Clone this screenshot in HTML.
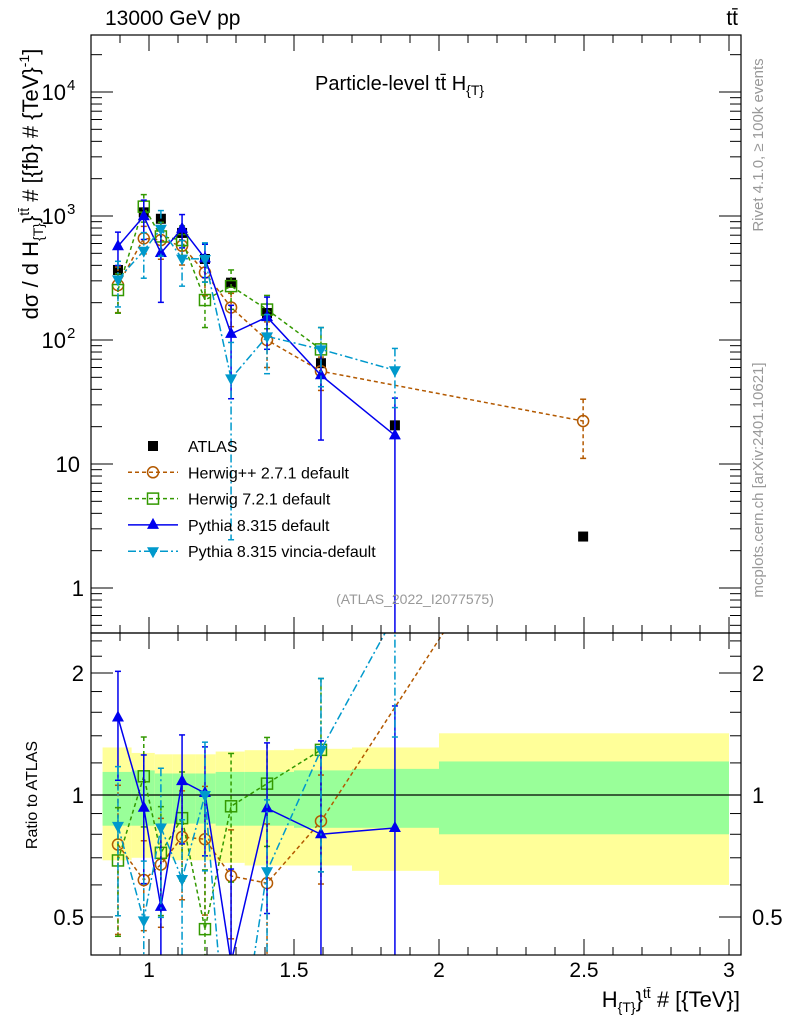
<!DOCTYPE html>
<html><head><meta charset="utf-8"><style>
body{margin:0;background:#fff;overflow:hidden;}
svg{display:block;font-family:"Liberation Sans",sans-serif;}
</style></head><body>
<svg id="c" width="786" height="1024" xmlns="http://www.w3.org/2000/svg"></svg>
<script>
const xVals=[0.893,0.982,1.041,1.114,1.193,1.283,1.407,1.593,1.848,2.497];
const hppX=[0.893,0.982,1.041,1.114,1.193,1.283,1.407,1.593,2.497];
const binEdges=[0.84,0.94,1.02,1.08,1.16,1.23,1.33,1.5,1.7,2.0,3.0];
const atlas=[367,1070,950,730,450,290,165,65,20.5,2.6];
const statUp=[0.14,0.15,0.13,0.13,0.13,0.14,0.14,0.15,0.16,0.21];
const statDn=[0.16,0.16,0.15,0.15,0.15,0.16,0.16,0.17,0.17,0.20];
const totUp=[0.31,0.27,0.26,0.26,0.26,0.28,0.29,0.30,0.31,0.42];
const totDn=[0.31,0.30,0.30,0.31,0.31,0.32,0.33,0.33,0.35,0.40];
const hppVals=[277,660,640,575,350,183,100,56,22.2];
const hppAtlas=[367,1070,950,730,450,290,165,65,2.6];
const hppErr=[0.4,0.25,0.3,0.3,0.35,0.3,0.4,0.3,0.5];
const h7Vals=[253,1190,684,640,210,272,176,84];
const h7Err=[0.35,0.25,0.3,0.3,0.4,0.35,0.3,0.5];
const py8Vals=[570,995,503,790,455,112,153,52,17];
const py8Err=[0.3,0.35,0.6,0.3,0.3,0.7,0.45,0.7,1.0];
const vinVals=[308,525,790,453,450,49,107,84,57];
const vinErr=[0.4,0.4,0.4,0.4,0.35,0.95,0.5,0.5,0.5];

const NS="http://www.w3.org/2000/svg";
const svg=document.getElementById('c');
const L=91,R=741,T=35,M=633,B=955;
const X=v=>L+(v-0.8)*290;
const YM=v=>588-Math.log10(v)*124;
const YR=r=>795-Math.log2(r)*122;
function el(tag,attrs,parent){const e=document.createElementNS(NS,tag);for(const k in attrs)e.setAttribute(k,attrs[k]);(parent||svg).appendChild(e);return e;}
const defs=el('defs',{});
const c1=el('clipPath',{id:'cm'},defs);el('rect',{x:L,y:T,width:R-L,height:M-T},c1);
const c2=el('clipPath',{id:'cr'},defs);el('rect',{x:L,y:M,width:R-L,height:B-M},c2);

const gR=el('g',{'clip-path':'url(#cr)'});

for(let i=0;i<atlas.length;i++){
 const x0=X(binEdges[i]),x1=X(binEdges[i+1]);
 const y=el('rect',{x:x0,y:YR(1+totUp[i]),width:x1-x0,height:YR(1-totDn[i])-YR(1+totUp[i]),fill:'#ffff99'},gR);
 
 const g=el('rect',{x:x0,y:YR(1+statUp[i]),width:x1-x0,height:YR(1-statDn[i])-YR(1+statUp[i]),fill:'#99ff99'},gR);
 
}
el('line',{x1:L,x2:R,y1:YR(1),y2:YR(1),stroke:'#000','stroke-width':1.2},gR);

const gM=el('g',{'clip-path':'url(#cm)'});
for(let i=0;i<atlas.length;i++){
 const r=el('rect',{x:X(xVals[i])-5,y:YM(atlas[i])-5,width:10,height:10,fill:'#000'},gM);
 
}
function series(xs,ref,vals,err,color,dash,marker,name){
 const pts=vals.map((v,i)=>[X(xs[i]),YM(v)]);
 const rpts=vals.map((v,i)=>[X(xs[i]),YR(v/ref[i])]);
 [[gM,pts,1],[gR,rpts,0]].forEach(([g,p,main])=>{
  const gg=el('g',{},g);
  
  el('polyline',{points:p.map(q=>q.join(',')).join(' '),fill:'none',stroke:color,'stroke-width':1.5,'stroke-dasharray':dash},gg);
  vals.forEach((v,i)=>{
   const x=p[i][0];
   const hi=v*(1+err[i]),lo=Math.max(v*(1-err[i]),1e-4);
   let yh,yl;
   if(main){yh=YM(hi);yl=YM(lo);}else{yh=YR(hi/ref[i]);yl=YR(lo/ref[i]);}
   el('line',{x1:x,x2:x,y1:yh,y2:yl,stroke:color,'stroke-width':1.5,'stroke-dasharray':dash},gg);
   el('line',{x1:x-3,x2:x+3,y1:yh,y2:yh,stroke:color,'stroke-width':1.5},gg);
   el('line',{x1:x-3,x2:x+3,y1:yl,y2:yl,stroke:color,'stroke-width':1.5},gg);
   drawMarker(gg,marker,x,p[i][1],color);
  });
 });
}
function drawMarker(g,m,x,y,color){
 if(m==='o')el('circle',{cx:x,cy:y,r:5.5,fill:'none',stroke:color,'stroke-width':1.5},g);
 else if(m==='s')el('rect',{x:x-5.5,y:y-5.5,width:11,height:11,fill:'none',stroke:color,'stroke-width':1.5},g);
 else if(m==='^')el('polygon',{points:`${x},${y-7} ${x-6},${y+4} ${x+6},${y+4}`,fill:color},g);
 else if(m==='v')el('polygon',{points:`${x},${y+7} ${x-6},${y-4} ${x+6},${y-4}`,fill:color},g);
}
series(hppX,hppAtlas,hppVals,hppErr,'#b35900','4,3','o','herwigpp-series');
series(xVals,atlas,h7Vals,h7Err,'#339900','4,3','s','herwig7-series');
series(xVals,atlas,py8Vals,py8Err,'#0000ee','none','^','pythia-series');
series(xVals,atlas,vinVals,vinErr,'#0099cc','8,3,2,3','v','vincia-series');

el('rect',{x:L,y:T,width:R-L,height:M-T,fill:'none',stroke:'#000','stroke-width':1.2});
el('rect',{x:L,y:M,width:R-L,height:B-M,fill:'none',stroke:'#000','stroke-width':1.2});
for(let k=8;k<=30;k++){
 const v=k/10,x=X(v),maj=k%5===0;const len=maj?16:8;
 [[T,1],[M,-1],[M,1],[B,-1]].forEach(([y,d])=>el('line',{x1:x,x2:x,y1:y,y2:y+d*len,stroke:'#000','stroke-width':1}));
 if(maj){const t=el('text',{x:x,y:977,'font-size':21,'text-anchor':'middle'});t.textContent=(v%1===0?v.toFixed(0):v.toFixed(1));
 }
}
for(let e=-1;e<=4;e++)for(let m=1;m<=9;m++){
 const v=m*Math.pow(10,e),y=YM(v);if(y<T||y>M)continue;const len=m===1?22:11;
 el('line',{x1:L,x2:L+len,y1:y,y2:y,stroke:'#000'});el('line',{x1:R,x2:R-len,y1:y,y2:y,stroke:'#000'});
}
const yl=[[4,'10','4'],[3,'10','3'],[2,'10','2'],[1,'10',''],[0,'1','']];
yl.forEach(([e,b,s])=>{const t=el('text',{x:e>=2?66:(e==1?80:84),y:YM(Math.pow(10,e))+8,'font-size':22,'text-anchor':'end'});t.textContent=b;
 
 if(s){const u=el('text',{x:67,y:YM(Math.pow(10,e))-2,'font-size':15});u.textContent=s;}});
[0.4,0.5,0.6,0.7,0.8,0.9,1,1.2,1.4,1.6,1.8,2,2.2,2.4].forEach(v=>{const y=YR(v);if(y<M||y>B)return;const maj=[0.5,1,2].includes(v);const len=maj?22:11;
 el('line',{x1:L,x2:L+len,y1:y,y2:y,stroke:'#000'});el('line',{x1:R,x2:R-len,y1:y,y2:y,stroke:'#000'});
 if(maj){[[84,'end'],[752,'start']].forEach(([x,a])=>{const t=el('text',{x:x,y:y+8,'font-size':22,'text-anchor':a});t.textContent=String(v);
 });}});
function txt(x,y,s,size,extra,name){const t=el('text',Object.assign({x:x,y:y,'font-size':size},extra||{}));t.textContent=s;return t;}
txt(105,25,'13000 GeV pp',21,{},'energy-label');
txt(738,25,'tt̄',21,{'text-anchor':'end'},'process-label');
txt(315,90,'',20,{},'plot-title').innerHTML='Particle-level tt̄  H<tspan font-size="14" dy="5">{T}</tspan>';
txt(415,604,'(ATLAS_2022_I2077575)',14,{'text-anchor':'middle',fill:'#999'},'analysis-id');
txt(740,1007,'',22,{'text-anchor':'end'},'x-axis-title').innerHTML='H<tspan font-size="14" dy="5">{T}</tspan><tspan dy="-5">}</tspan><tspan font-size="14" dy="-9">tt̄</tspan><tspan dy="9"> # [{TeV}]</tspan>';
const yt=txt(0,0,'',22,{transform:'translate(38,184) rotate(-90)','text-anchor':'middle'},'y-axis-title');
yt.innerHTML='dσ / d H<tspan font-size="14" dy="5">{T}</tspan><tspan dy="-5">}</tspan><tspan font-size="14" dy="-9">tt̄</tspan><tspan dy="9"> # [{fb} # {TeV}</tspan><tspan font-size="14" dy="-9">-1</tspan><tspan dy="9">]</tspan>';
txt(0,0,'Ratio to ATLAS',16,{transform:'translate(37,795) rotate(-90)','text-anchor':'middle'},'ratio-axis-title');
txt(0,0,'Rivet 4.1.0, ≥ 100k events',15,{transform:'translate(763,145) rotate(-90)','text-anchor':'middle',fill:'#999'},'rivet-label');
txt(0,0,'mcplots.cern.ch [arXiv:2401.10621]',15,{transform:'translate(763,480) rotate(-90)','text-anchor':'middle',fill:'#999'},'mcplots-label');
const lg=el('g',{});
const leg=[['ATLAS','#000','none','A'],['Herwig++ 2.7.1 default','#b35900','4,3','o'],['Herwig 7.2.1 default','#339900','4,3','s'],['Pythia 8.315 default','#0000ee','none','^'],['Pythia 8.315 vincia-default','#0099cc','8,3,2,3','v']];
leg.forEach((l,i)=>{const y=446+i*26.3;const g=el('g',{},lg);
 if(l[3]==='A')el('rect',{x:148,y:y-5,width:10,height:10,fill:'#000'},g);
 else{el('line',{x1:128,x2:178,y1:y,y2:y,stroke:l[1],'stroke-width':1.5,'stroke-dasharray':l[2]},g);drawMarker(g,l[3],153,y,l[1]);}
 txt(188,y+6,l[0],16,{},'legend-label');});
</script>
</body></html>
